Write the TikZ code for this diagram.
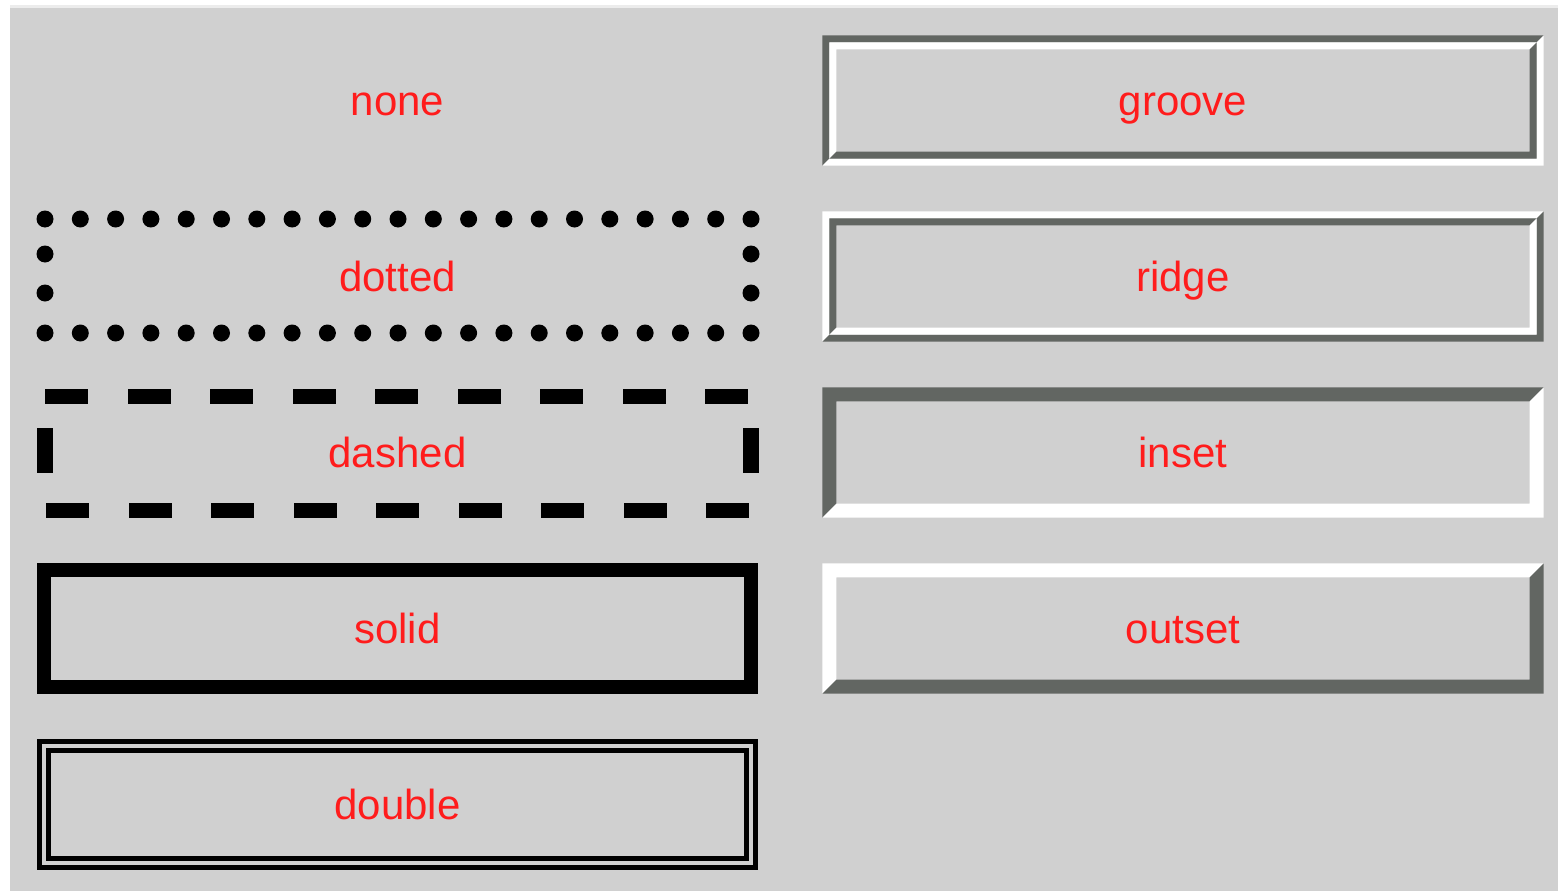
\documentclass[tikz,border=0pt]{standalone}
\usepackage{fontspec}
\setmainfont{Liberation Sans}
\definecolor{bggray}{RGB}{208,208,208}
\definecolor{stripgray}{RGB}{236,236,236}
\definecolor{borderdark}{RGB}{98,102,98}
\definecolor{labelred}{RGB}{255,28,28}
\tikzset{
  cssbox/.style={minimum width=721pt, minimum height=130pt, inner sep=0pt,
    text=labelred, font=\fontsize{42}{50}\selectfont, text height=34pt, text depth=5pt},
}
% two-coloured border ring: node, offset, width, top-left colour, bottom-right colour
\newcommand{\bevelborder}[5]{%
  \fill[#4] ([shift={(#2,-#2)}]#1.south west) -- ([shift={(#2,#2)}]#1.north west)
    -- ([shift={(-#2,#2)}]#1.north east) -- ([shift={(-#2-#3,#2+#3)}]#1.north east)
    -- ([shift={(#2+#3,#2+#3)}]#1.north west) -- ([shift={(#2+#3,-#2-#3)}]#1.south west) -- cycle;
  \fill[#5] ([shift={(-#2,#2)}]#1.north east) -- ([shift={(-#2,-#2)}]#1.south east)
    -- ([shift={(#2,-#2)}]#1.south west) -- ([shift={(#2+#3,-#2-#3)}]#1.south west)
    -- ([shift={(-#2-#3,-#2-#3)}]#1.south east) -- ([shift={(-#2-#3,#2+#3)}]#1.north east) -- cycle;
}
\begin{document}
\begin{tikzpicture}[x=1pt,y=-1pt]
\useasboundingbox (0,0) rectangle (1558,891);
\fill[white] (0,0) rectangle (1558,891);
\fill[stripgray] (10,5) rectangle (1558,8);
\fill[bggray] (10,8) rectangle (1558,891);

% left column
\node[cssbox] (none)   at (397.5,100.5) {none};
\node[cssbox] (dotted) at (397.5,276.5) {dotted};
\node[cssbox] (dashed) at (397.5,452.5) {dashed};
\node[cssbox] (solid)  at (397.5,628.5) {solid};
\node[cssbox] (double) at (397.5,804.5) {double};
% right column
\node[cssbox] (groove) at (1183,100.5) {groove};
\node[cssbox] (ridge)  at (1183,276.5) {ridge};
\node[cssbox] (inset)  at (1183,452.5) {inset};
\node[cssbox] (outset) at (1183,628.5) {outset};

% dotted
\foreach \i in {0,...,20}
{
    \fill (45+35.3*\i,219) circle (8.5pt);
    \fill (45+35.3*\i,333) circle (8.5pt);
}
\foreach \y in {254,293}
{
    \fill (45,\y) circle (8.5pt);
    \fill (751,\y) circle (8.5pt);
}
% dashed
\foreach \i in {0,...,8}
{
    \fill (45+82.5*\i,388.5) rectangle +(43,15);
    \fill (46+82.5*\i,503) rectangle +(43,15);
}
\fill (37,428) rectangle +(16,45);
\fill (743,428) rectangle +(16,45);
% solid and double
\draw[line width=14pt] ([shift={(7,7)}]solid.north west) rectangle ([shift={(-7,-7)}]solid.south east);
\draw[line width=5pt, double=bggray, double distance=4pt]
    ([shift={(7,7)}]double.north west) rectangle ([shift={(-7,-7)}]double.south east);

% groove, ridge, inset, outset
\bevelborder{groove}{0}{7}{borderdark}{white}
\bevelborder{groove}{7}{7}{white}{borderdark}
\bevelborder{ridge}{0}{7}{white}{borderdark}
\bevelborder{ridge}{7}{7}{borderdark}{white}
\bevelborder{inset}{0}{14}{borderdark}{white}
\bevelborder{outset}{0}{14}{white}{borderdark}
\end{tikzpicture}
\end{document}
